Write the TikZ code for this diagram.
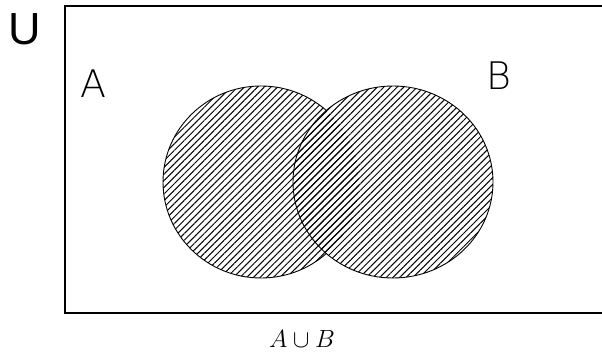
\documentclass[tikz,border=0pt]{standalone}
\usepackage{fontspec}
\setsansfont{Liberation Sans}
\newfontfamily\thinsans{DejaVu Sans ExtraLight}
\usetikzlibrary{patterns.meta}
\begin{document}
\begin{tikzpicture}[x=1pt,y=-1pt,
  frame/.style={line width=1.3pt},
  setoutline/.style={line width=0.9pt},
  hatch/.style={pattern={Lines[angle=45,distance=4.7pt,line width=1.0pt]}},
  biglbl/.style={font=\thinsans\fontsize{38}{38}\selectfont, inner sep=0pt},
]
\useasboundingbox (0,0) rectangle (602,358);
% universe frame (right side runs off the picture)
\draw[frame] (603,6) -- (65,6) -- (65,313) -- (603,313);
% hatched sets
\fill[hatch] (261,182) ellipse [x radius=98, y radius=96];
\fill[hatch] (393,182) ellipse [x radius=100, y radius=96];
\begin{scope}
  \clip (0,0) rectangle (602,358) (393,182) ellipse [x radius=100, y radius=96];
  \draw[setoutline, even odd rule] (261,182) ellipse [x radius=98, y radius=96];
\end{scope}
\draw[setoutline] (393,182) ellipse [x radius=100, y radius=96];
% labels
\node[inner sep=0pt, font=\sffamily\fontsize{45}{45}\selectfont, anchor=south] (u) at (25,45) {U};
\node[biglbl, anchor=south] (a) at (93,98) {A};
\node[biglbl, anchor=south] (b) at (499,90) {B};
\node[inner sep=0pt, anchor=base, font=\fontsize{24}{24}\selectfont] (lbl) at (302,347) {$A\cup B$};
\end{tikzpicture}
\end{document}
